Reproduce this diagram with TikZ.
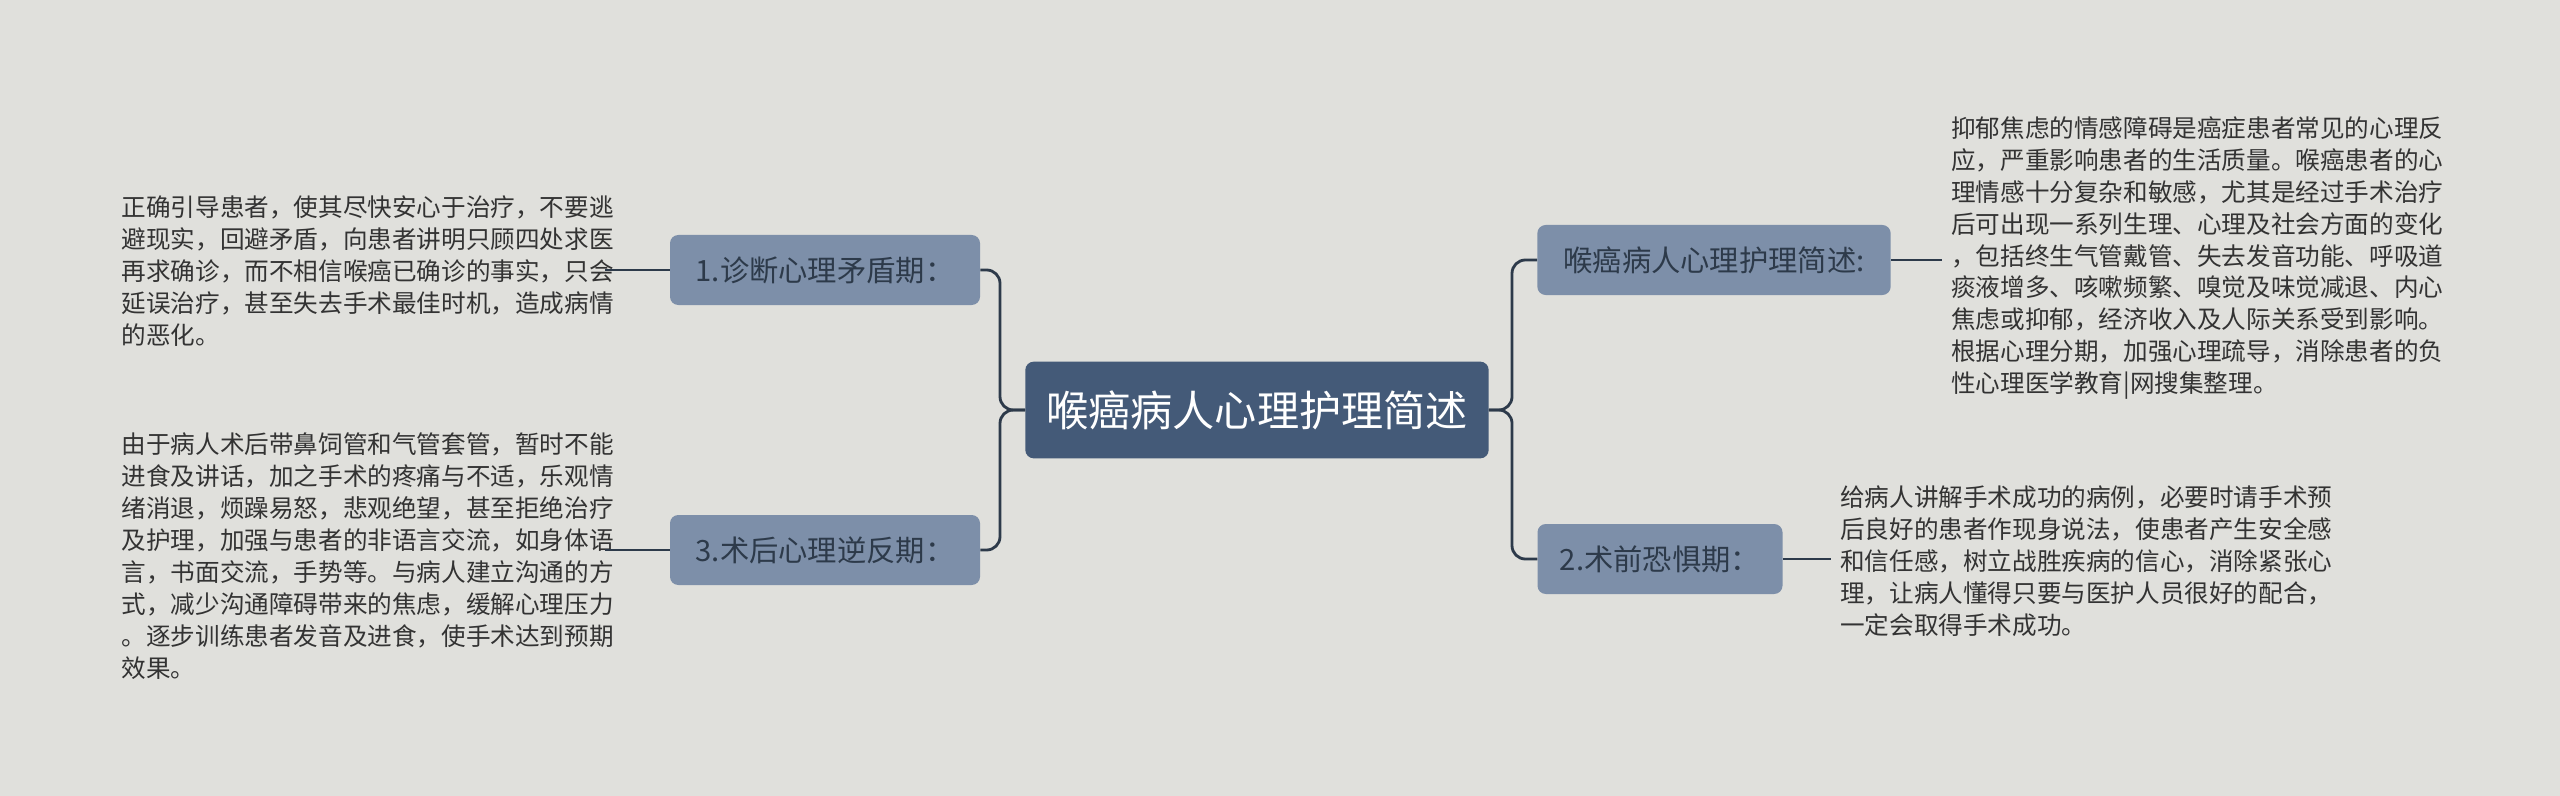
\documentclass[tikz,border=0pt]{standalone}
\usepackage{fontspec}
\setmainfont{Noto Sans CJK SC}
\usetikzlibrary{positioning}
\definecolor{bgcol}{HTML}{E0E0DC}
\definecolor{rootcol}{HTML}{445A78}
\definecolor{topiccol}{HTML}{7D8FA9}
\definecolor{linecol}{HTML}{2D3A4A}
\definecolor{txtcol}{HTML}{333333}
\begin{document}
\begin{tikzpicture}[x=0.03cm, y=-0.03cm]
    % Define styles
    \tikzset{
        root/.style={
            fill=rootcol,
            rounded corners=0.25cm,
            minimum width=13.9cm,
            minimum height=2.9cm,
            text=white,
            font=\fontsize{36}{40}\selectfont
        },
        topic/.style={
            fill=topiccol,
            rounded corners=0.25cm,
            minimum height=2.1cm,
            text=linecol,
            font=\fontsize{25}{30}\selectfont
        },
        leaf/.style={
            align=left,
            inner sep=0pt,
            text=txtcol,
            font=\fontsize{21}{27.3}\selectfont
        },
        link/.style={
            draw=linecol,
            line width=2.4pt,
            rounded corners=0.4cm
        }
    }
    \fill[bgcol] (0,0) rectangle (2560,796);

    % Root
    \node[root] (root) at (1257,410) {喉癌病人心理护理简述};

    % Topics
    \node[topic, minimum width=9.3cm] (diag) at (825,270) {1.诊断心理矛盾期：};
    \node[topic, minimum width=9.3cm] (post) at (825,550) {3.术后心理逆反期：};
    \node[topic, minimum width=10.6cm] (summ) at (1714,260) {喉癌病人心理护理简述:};
    \node[topic, minimum width=7.35cm] (pre) at (1660,559) {2.术前恐惧期：};

    % Leaves
    \node[leaf, anchor=east] (diagtxt) at (614,271) {正确引导患者，使其尽快安心于治疗，不要逃\\避现实，回避矛盾，向患者讲明只顾四处求医\\再求确诊，而不相信喉癌已确诊的事实，只会\\延误治疗，甚至失去手术最佳时机，造成病情\\的恶化。};
    \node[leaf, anchor=east] (posttxt) at (614,556) {由于病人术后带鼻饲管和气管套管，暂时不能\\进食及讲话，加之手术的疼痛与不适，乐观情\\绪消退，烦躁易怒，悲观绝望，甚至拒绝治疗\\及护理，加强与患者的非语言交流，如身体语\\言，书面交流，手势等。与病人建立沟通的方\\式，减少沟通障碍带来的焦虑，缓解心理压力\\。逐步训练患者发音及进食，使手术达到预期\\效果。};
    \node[leaf, anchor=west] (summtxt) at (1951,258) {抑郁焦虑的情感障碍是癌症患者常见的心理反\\应，严重影响患者的生活质量。喉癌患者的心\\理情感十分复杂和敏感，尤其是经过手术治疗\\后可出现一系列生理、心理及社会方面的变化\\，包括终生气管戴管、失去发音功能、呼吸道\\痰液增多、咳嗽频繁、嗅觉及味觉减退、内心\\焦虑或抑郁，经济收入及人际关系受到影响。\\根据心理分期，加强心理疏导，消除患者的负\\性心理医学教育|网搜集整理。};
    \node[leaf, anchor=west] (pretxt) at (1840,561) {给病人讲解手术成功的病例，必要时请手术预\\后良好的患者作现身说法，使患者产生安全感\\和信任感，树立战胜疾病的信心，消除紧张心\\理，让病人懂得只要与医护人员很好的配合，\\一定会取得手术成功。};

    % Connectors
    \draw[link] (root.west) -- (1000,410) |- (diag.east);
    \draw[link] (root.west) -- (1000,410) |- (post.east);
    \draw[link] (root.east) -- (1512,410) |- (summ.west);
    \draw[link] (root.east) -- (1512,410) |- (pre.west);
    \draw[link] (diag.west) -- ([xshift=-8pt]diagtxt.east |- diag.west);
    \draw[link] (post.west) -- ([xshift=-8pt]posttxt.east |- post.west);
    \draw[link] (summ.east) -- ([xshift=-8pt]summtxt.west |- summ.east);
    \draw[link] (pre.east) -- ([xshift=-8pt]pretxt.west |- pre.east);
\end{tikzpicture}
\end{document}
